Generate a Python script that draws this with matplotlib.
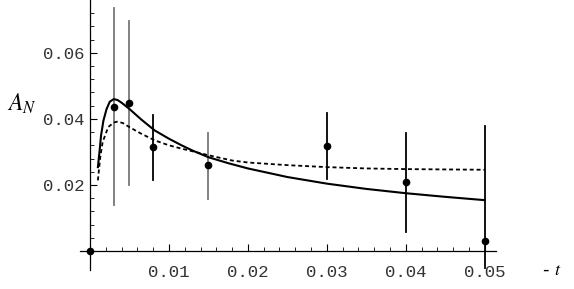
import matplotlib
matplotlib.use("Agg")
import matplotlib.pyplot as plt
import numpy as np

# Donnees
t_pts = [0.0, 0.003, 0.005, 0.008, 0.015, 0.030, 0.040, 0.050]
an_pts = [0.0, 0.0437, 0.0449, 0.0314, 0.0259, 0.0318, 0.0208, 0.0029]
err_haut = [0.0737, 0.0697, 0.0413, 0.0358, 0.0418, 0.0358, 0.0378]
err_bas = [0.0139, 0.0199, 0.0214, 0.0159, 0.0217, 0.0058, -0.0051]
err_gris = [True, True, False, True, False, False, False]

# courbe pleine
t_plein = [0.0010, 0.0012, 0.0014, 0.0017, 0.0021, 0.0025, 0.0030, 0.0035, 0.0040,
           0.0050, 0.0065, 0.0082, 0.0100, 0.0116, 0.0130, 0.0150, 0.0175, 0.0200,
           0.0250, 0.0300, 0.0350, 0.0400, 0.0450, 0.0500]
an_plein = [0.0254, 0.0300, 0.0350, 0.0395, 0.0430, 0.0452, 0.0460, 0.0457, 0.0449,
            0.0430, 0.0398, 0.0365, 0.0340, 0.0320, 0.0304, 0.0284, 0.0266, 0.0250,
            0.0224, 0.0204, 0.0188, 0.0175, 0.0164, 0.0154]

# courbe pointillee
t_tiret = [0.0010, 0.0013, 0.0016, 0.0023, 0.0030, 0.0035, 0.0042, 0.0050, 0.0065,
           0.0082, 0.0100, 0.0116, 0.0150, 0.0180, 0.0200, 0.0250, 0.0300, 0.0350,
           0.0400, 0.0450, 0.0500]
an_tiret = [0.0214, 0.0285, 0.0330, 0.0375, 0.0389, 0.0392, 0.0387, 0.0375, 0.0355,
            0.0335, 0.0320, 0.0310, 0.0290, 0.0274, 0.0268, 0.0260, 0.0254, 0.0250,
            0.0248, 0.0247, 0.0246]

x_ticks = [0.01, 0.02, 0.03, 0.04, 0.05]
y_ticks = [0.02, 0.04, 0.06]

plt.rcParams['mathtext.fontset'] = 'stix'

fig = plt.figure(figsize=(5.74, 2.89), dpi=100)
ax = fig.add_axes([0, 0, 1, 1])
ax.set_xlim(-0.0114, 0.0613)
ax.set_ylim(-0.0115, 0.076)

# barres d'erreur
for x, h, b, g in zip(t_pts[1:], err_haut, err_bas, err_gris):
    ax.plot([x, x], [b, h], color='#777777' if g else 'black', lw=1.3, zorder=2)

ax.plot(t_plein, an_plein, color='black', lw=1.5, zorder=3)
ax.plot(t_tiret, an_tiret, color='black', lw=1.3, ls=(0, (2.2, 1.6)), zorder=3)
ax.plot(t_pts, an_pts, 'o', color='black', ms=4.5, zorder=4, clip_on=False)

# axes facon Mathematica
for s in ['top', 'right']:
    ax.spines[s].set_visible(False)
ax.spines['left'].set_position(('data', 0))
ax.spines['bottom'].set_position(('data', 0))
ax.spines['left'].set_bounds(-0.0057, 0.076)
ax.spines['bottom'].set_bounds(-0.0013, 0.0514)
ax.spines['left'].set_linewidth(0.9)
ax.spines['bottom'].set_linewidth(0.9)

ax.set_xticks(x_ticks)
ax.set_xticks(np.arange(0.002, 0.0501, 0.002), minor=True)
ax.set_yticks(y_ticks)
ax.set_yticks(np.arange(0.004, 0.0741, 0.004), minor=True)
ax.tick_params(which='major', direction='in', length=5, width=0.8)
ax.tick_params(which='minor', direction='in', length=3, width=0.6)
ax.set_xticklabels([f"{v:.2f}" for v in x_ticks], family='Liberation Mono',
                   fontsize=12.5, color='#333333')
ax.set_yticklabels([f"{v:.2f}" for v in y_ticks], family='Liberation Mono',
                   fontsize=12.5, color='#333333')
ax.tick_params(axis='x', pad=10)
ax.tick_params(axis='y', pad=4)

fig.text(0.012, 0.64, r'$A_N$', fontsize=17, va='center', ha='left')
fig.text(0.945, 0.065, r'- $t$', fontsize=13, va='center', ha='left')

fig.savefig('out.png', dpi=100)
